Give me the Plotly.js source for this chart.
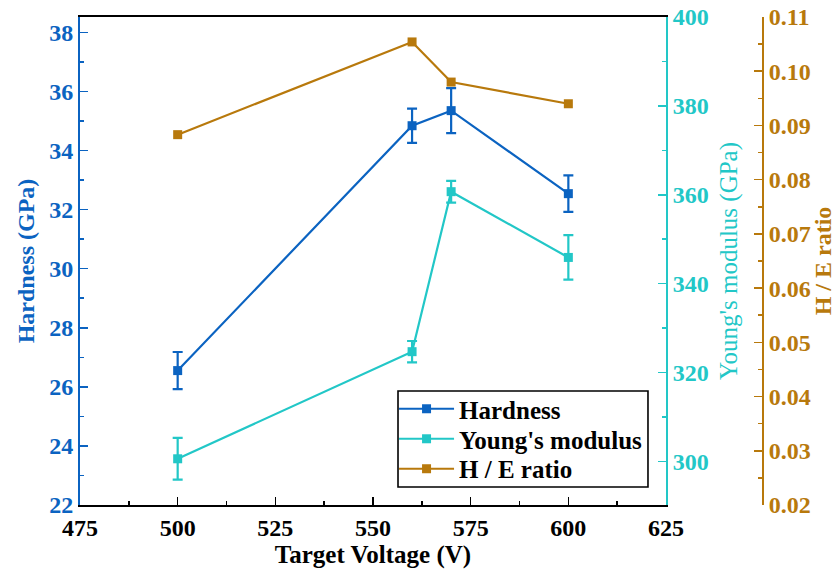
<!DOCTYPE html>
<html>
<head>
<meta charset="utf-8">
<script src="https://cdn.plot.ly/plotly-3.0.1.min.js"></script>
<style>html,body{margin:0;padding:0;background:#fff;}#chart{width:836px;height:571px;}</style>
</head>
<body>
<div id="chart"></div>
<script>
// Data
const voltage = [500, 560, 570, 600];
const hardness = [26.55, 34.84, 35.35, 32.54];
const hardnessErr = [0.63, 0.58, 0.76, 0.62];
const modulus = [300.6, 324.7, 360.7, 345.9];
const modulusErr = [4.7, 2.4, 2.45, 5.0];
const ratio = [0.0883, 0.1054, 0.0980, 0.0940];
const xTicks = [475, 500, 525, 550, 575, 600, 625];

const BLUE = '#0b63c1';
const CYAN = '#22c7c7';
const BROWN = '#b8790c';
const FONT = 'Liberation Serif, Times New Roman, serif';

const legendFont = {family: FONT, size: 25, color: '#000000', weight: 'bold'};
function legendAt(x, y) {
  return {x: x, y: y, xanchor: 'left', yanchor: 'middle', bgcolor: 'rgba(0,0,0,0)',
          borderwidth: 0, font: legendFont, itemwidth: 55};
}

const traces = [
  {
    x: voltage, y: hardness, name: 'Hardness', type: 'scatter', mode: 'lines+markers',
    line: {color: BLUE, width: 2.2}, marker: {symbol: 'square', size: 9, color: BLUE},
    error_y: {type: 'data', array: hardnessErr, visible: true, color: BLUE, thickness: 2.2, width: 5},
    xaxis: 'x', yaxis: 'y', legend: 'legend'
  },
  {
    x: voltage, y: modulus, name: "Young's modulus", type: 'scatter', mode: 'lines+markers',
    line: {color: CYAN, width: 2.2}, marker: {symbol: 'square', size: 9, color: CYAN},
    error_y: {type: 'data', array: modulusErr, visible: true, color: CYAN, thickness: 2.2, width: 5},
    xaxis: 'x', yaxis: 'y2', legend: 'legend2'
  },
  {
    x: voltage, y: ratio, name: 'H / E ratio', type: 'scatter', mode: 'lines+markers',
    line: {color: BROWN, width: 2.2}, marker: {symbol: 'square', size: 9, color: BROWN},
    xaxis: 'x', yaxis: 'y3', legend: 'legend3'
  }
];

const layout = {
  width: 836, height: 571,
  margin: {l: 80, r: 73, t: 17, b: 66},
  paper_bgcolor: '#ffffff', plot_bgcolor: '#ffffff',
  font: {family: FONT},
  showlegend: true,
  legend: legendAt(0.4598, 0.1967),
  legend2: legendAt(0.4598, 0.1352),
  legend3: legendAt(0.4598, 0.0738),
  shapes: [{
    type: 'rect', xref: 'paper', yref: 'paper',
    x0: 0.4656, x1: 0.8316, y0: 0.0369, y1: 0.2336,
    line: {color: '#000000', width: 1.6}, fillcolor: '#ffffff', layer: 'above'
  }],
  xaxis: {
    domain: [0, 0.858], range: [475, 625],
    tickvals: xTicks, ticktext: xTicks.map(String),
    ticks: 'inside', ticklen: 8, tickwidth: 1.5, tickcolor: '#000',
    minor: {ticks: 'inside', ticklen: 4, tickwidth: 1.5, tickcolor: '#000', dtick: 12.5, tick0: 475},
    showline: true, linecolor: '#000', linewidth: 2, mirror: true,
    showgrid: false, zeroline: false,
    tickfont: {family: FONT, size: 24, color: '#000', weight: 'bold'},
    title: {text: 'Target Voltage (V)', font: {family: FONT, size: 25, color: '#000', weight: 'bold'}, standoff: 6}
  },
  yaxis: {
    range: [22, 38.52], tick0: 22, dtick: 2,
    ticks: 'inside', ticklen: 8, tickwidth: 1.5, tickcolor: BLUE,
    minor: {ticks: 'inside', ticklen: 4, tickwidth: 1.5, tickcolor: BLUE, dtick: 1},
    showline: true, linecolor: BLUE, linewidth: 2,
    showgrid: false, zeroline: false,
    tickfont: {family: FONT, size: 24, color: BLUE, weight: 'bold'},
    title: {text: 'Hardness (GPa)', font: {family: FONT, size: 24, color: BLUE, weight: 'bold'}, standoff: 8}
  },
  yaxis2: {
    overlaying: 'y', side: 'right', anchor: 'x',
    range: [290.2, 400], tick0: 300, dtick: 20,
    ticks: 'inside', ticklen: 8, tickwidth: 1.5, tickcolor: CYAN,
    minor: {ticks: 'inside', ticklen: 4, tickwidth: 1.5, tickcolor: CYAN, dtick: 10, tick0: 300},
    showline: true, linecolor: CYAN, linewidth: 2,
    showgrid: false, zeroline: false,
    tickfont: {family: FONT, size: 24, color: CYAN, weight: 'bold'},
    title: {text: "Young's modulus (GPa)", font: {family: FONT, size: 25, color: CYAN}, standoff: 12}
  },
  yaxis3: {
    overlaying: 'y', side: 'right', anchor: 'free', position: 1,
    range: [0.02, 0.11], tick0: 0.02, dtick: 0.01, tickformat: '.2f',
    ticks: 'inside', ticklen: 8, tickwidth: 1.5, tickcolor: BROWN,
    minor: {ticks: 'inside', ticklen: 4, tickwidth: 1.5, tickcolor: BROWN, dtick: 0.005, tick0: 0.02},
    showline: true, linecolor: BROWN, linewidth: 2,
    showgrid: false, zeroline: false,
    tickfont: {family: FONT, size: 24, color: BROWN, weight: 'bold'},
    title: {text: 'H / E ratio', font: {family: FONT, size: 24, color: BROWN, weight: 'bold'}, standoff: 9}
  }
};

Plotly.newPlot('chart', traces, layout, {displayModeBar: false, staticPlot: true});
</script>
</body>
</html>
